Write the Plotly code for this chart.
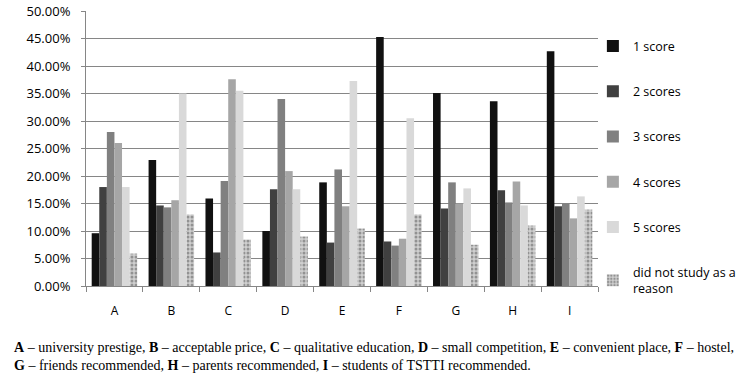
import plotly.graph_objects as go

categories = ["A", "B", "C", "D", "E", "F", "G", "H", "I"]
series_names = ["1 score", "2 scores", "3 scores", "4 scores", "5 scores", "did not study as a<br>reason"]
score1 = [9.6, 22.9, 15.9, 10.0, 18.85, 45.3, 35.1, 33.6, 42.7]
score2 = [18.0, 14.65, 6.1, 17.6, 7.9, 8.1, 14.1, 17.4, 14.5]
score3 = [28.0, 14.3, 19.1, 34.0, 21.2, 7.35, 18.85, 15.2, 15.0]
score4 = [26.0, 15.6, 37.6, 20.9, 14.5, 8.6, 15.0, 19.0, 12.3]
score5 = [18.0, 35.0, 35.5, 17.6, 37.3, 30.5, 17.75, 14.65, 16.3]
not_studied = [5.9, 13.0, 8.45, 9.0, 10.45, 13.0, 7.5, 11.0, 13.9]
y_ticks = [0, 5, 10, 15, 20, 25, 30, 35, 40, 45, 50]
y_tick_labels = ["%.2f%%" % v for v in y_ticks]

colors = ["#111111", "#404040", "#808080", "#a6a6a6", "#d9d9d9", "#b8b8b8"]
all_series = [score1, score2, score3, score4, score5, not_studied]

fig = go.Figure()
for i, (name, vals) in enumerate(zip(series_names, all_series)):
    marker = dict(color=colors[i], line=dict(width=0))
    if i == 5:
        marker["pattern"] = dict(shape=".", fgcolor="#555555", bgcolor="#cfcfcf", size=4, solidity=0.45)
    fig.add_trace(go.Bar(x=categories, y=vals, name=name, marker=marker,
                         legendgroup=str(i)))

caption = ("<b>A</b> – university prestige, <b>B</b> – acceptable price, <b>C</b> – qualitative education, "
           "<b>D</b> – small competition, <b>E</b> – convenient place, <b>F</b> – hostel,<br>"
           "<b>G</b> – friends recommended, <b>H</b> – parents recommended, <b>I</b> – students of TSTTI recommended.")

fig.update_layout(
    width=746, height=375,
    margin=dict(l=86, r=148, t=11, b=89, autoexpand=False),
    plot_bgcolor="white", paper_bgcolor="white",
    barmode="group", bargap=0.2, bargroupgap=0,
    font=dict(family="Open Sans", size=12, color="#000000"),
    xaxis=dict(showline=True, linecolor="#868686", linewidth=1, ticks="outside",
               tickson="boundaries", ticklen=5, tickcolor="#868686",
               ticklabelstandoff=14, tickfont=dict(size=12)),
    yaxis=dict(range=[0, 50.02], tickvals=y_ticks, ticktext=y_tick_labels,
               showgrid=True, gridcolor="#868686", gridwidth=1,
               showline=True, linecolor="#868686", ticks="outside", ticklen=4,
               tickcolor="#868686", zeroline=False, tickfont=dict(size=13),
               ticklabelstandoff=8, ticklabeloverflow="allow"),
    legend=dict(x=0.99, xanchor="left", y=0.926, yanchor="top",
                tracegroupgap=26, font=dict(size=12.5), itemwidth=30,
                bgcolor="rgba(0,0,0,0)"),
    annotations=[dict(text=caption, xref="paper", yref="paper", x=-0.145, y=-0.189,
                      xanchor="left", yanchor="top", showarrow=False, align="left",
                      font=dict(family="Liberation Serif", size=14, color="#000"))],
)

fig.write_html("out.html", config={"displayModeBar": False},
               post_script="document.body.style.margin='0';")
